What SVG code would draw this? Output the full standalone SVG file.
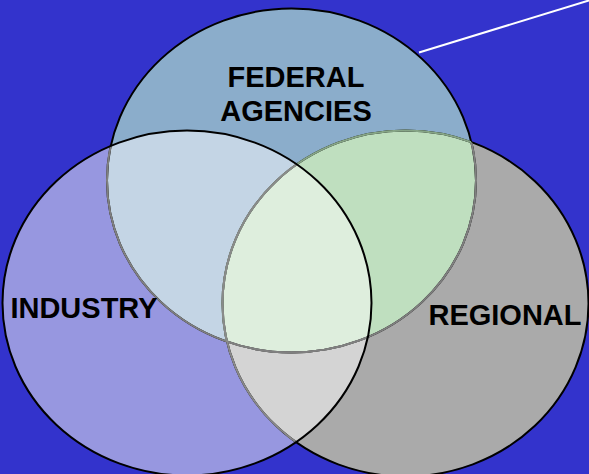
<svg xmlns="http://www.w3.org/2000/svg" xmlns:xlink="http://www.w3.org/1999/xlink" width="589" height="474" viewBox="0 0 589 474">
<style>
.lbl{font-family:"Liberation Sans",Arial,sans-serif;font-weight:bold;font-size:29px;fill:#000}
.sk{fill:none;stroke-width:2}
</style>
<defs>
<ellipse id="F" cx="291.5" cy="180.5" rx="184.5" ry="172"/>
<ellipse id="I" cx="187" cy="303" rx="184.5" ry="172.5"/>
<ellipse id="R" cx="405.5" cy="303.5" rx="183" ry="173"/>
<clipPath id="cF"><use xlink:href="#F"/></clipPath>
<clipPath id="cI"><use xlink:href="#I"/></clipPath>
<clipPath id="cR"><use xlink:href="#R"/></clipPath>
</defs>
<rect width="589" height="474" fill="#3333cc"/>
<g id="connectors">
<line x1="419" y1="52.5" x2="592" y2="-0.5" stroke="#ffffff" stroke-width="2"/>
</g>
<g id="federal">
<use xlink:href="#F" fill="#8badcb"/>
</g>
<g id="industry-fill">
<use xlink:href="#I" fill="#9797e0"/>
</g>
<g id="regional-fill">
<use xlink:href="#R" fill="#aaaaaa"/>
</g>
<g id="overlaps">
<g clip-path="url(#cI)"><use xlink:href="#F" fill="#c4d5e5"/></g>
<g clip-path="url(#cR)"><use xlink:href="#F" fill="#bfdfbf"/></g>
<g clip-path="url(#cR)"><use xlink:href="#I" fill="#d4d4d4"/></g>
<g clip-path="url(#cR)"><g clip-path="url(#cI)"><use xlink:href="#F" fill="#deeedd"/></g></g>
</g>
<g id="outlines">
<use xlink:href="#F" class="sk" stroke="#000"/>
<use xlink:href="#R" class="sk" stroke="#000"/>
<g clip-path="url(#cI)"><use xlink:href="#F" class="sk" stroke="#808080"/></g>
<g clip-path="url(#cR)"><use xlink:href="#F" class="sk" stroke="#808080"/></g>
<g clip-path="url(#cF)"><use xlink:href="#R" class="sk" stroke="#86a586"/></g>
<g clip-path="url(#cI)"><use xlink:href="#R" class="sk" stroke="#8a8a8a"/></g>
<use xlink:href="#I" class="sk" stroke="#000"/>
</g>
<g id="labels">
<text class="lbl" x="296" y="87" text-anchor="middle">FEDERAL</text>
<text class="lbl" x="296" y="121" text-anchor="middle">AGENCIES</text>
<text class="lbl" x="84" y="318" text-anchor="middle">INDUSTRY</text>
<text class="lbl" x="505" y="325" text-anchor="middle">REGIONAL</text>
</g>
</svg>
